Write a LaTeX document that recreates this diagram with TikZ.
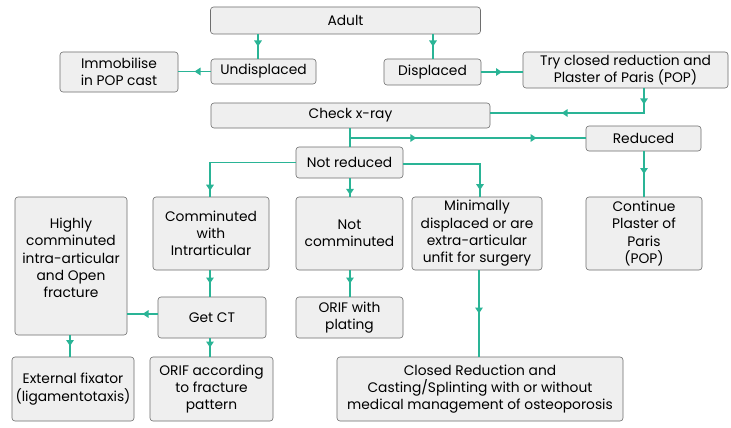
\documentclass[tikz,border=0pt]{standalone}
\usepackage{fontspec}
\setmainfont{Poppins}
\usetikzlibrary{arrows.meta,decorations.markings}
\definecolor{teal1}{RGB}{42,180,150}
\definecolor{boxfill}{RGB}{239,239,239}
\definecolor{boxline}{RGB}{110,110,110}
\tikzset{
  box/.style={draw=boxline, fill=boxfill, rounded corners=3pt, line width=0.6pt,
    inner sep=0pt, align=center, font=\fontsize{13.8}{17.3}\selectfont},
  conn/.style={draw=teal1, line width=1.6pt},
  am/.style={postaction={decorate,decoration={markings,
    mark=at position #1 with {\arrow{Triangle[length=6pt,width=7.5pt]}}}}},
  am/.default=0.5
}
\begin{document}
\begin{tikzpicture}[x=1pt,y=-1pt]
\useasboundingbox[fill=white] (0,0) rectangle (731,428);
% nodes
\node[box,minimum width=270pt,minimum height=27pt] (adult) at (345.5,20.5) {Adult};
\node[box,minimum width=105pt,minimum height=25pt] (undisp) at (263.5,71.5) {Undisplaced};
\node[box,minimum width=118pt,minimum height=40pt] (immob) at (119,72) {Immobilise\\in POP cast};
\node[box,minimum width=97pt,minimum height=26pt] (disp) at (432.5,72) {Displaced};
\node[box,minimum width=205pt,minimum height=36pt] (try) at (625.5,70) {Try closed reduction and\\Plaster of Paris (POP)};
\node[box,minimum width=279pt,minimum height=25pt] (check) at (350.5,115.5) {Check x-ray};
\node[box,minimum width=115pt,minimum height=25pt] (reduced) at (643.5,138.5) {Reduced};
\node[box,minimum width=107pt,minimum height=31pt] (notred) at (349.5,162.5) {Not reduced};
\node[box,minimum width=112pt,minimum height=138pt] (highly) at (71,266) {Highly\\comminuted\\intra-articular\\and Open\\fracture\\[-1pt]};
\node[box,minimum width=116pt,minimum height=73pt] (comm) at (211,233.5) {Comminuted\\with\\Intrarticular};
\node[box,minimum width=107pt,minimum height=73pt] (notcomm) at (349.5,233.5) {Not\\comminuted};
\node[box,minimum width=130pt,minimum height=73pt] (minim) at (477,233.5) {Minimally\\displaced or are\\extra-articular\\unfit for surgery};
\node[box,minimum width=116pt,minimum height=73pt] (cont) at (644,233.5) {Continue\\Plaster of\\Paris\\(POP)};
\node[box,minimum width=108pt,minimum height=41pt] (getct) at (212,317.5) {Get CT};
\node[box,minimum width=107pt,minimum height=41pt] (orifp) at (349.5,317.5) {ORIF with\\plating};
\node[box,minimum width=122pt,minimum height=64pt] (extfix) at (73,389) {External fixator\\(ligamentotaxis)};
\node[box,minimum width=123pt,minimum height=64pt] (orifa) at (211.5,389) {ORIF according\\to fracture\\pattern};
\node[box,minimum width=286pt,minimum height=64pt] (closed) at (480,389) {Closed Reduction and\\Casting/Splinting with or without\\medical management of osteoporosis};
% connectors
\draw[conn,am] (258,0 |- adult.south) -- (258,0 |- undisp.north);
\draw[conn,am] (433,0 |- adult.south) -- (433,0 |- disp.north);
\draw[conn,am] (undisp.west) -- (immob.east |- undisp.west);
\draw[conn,am] (disp.east) -- (try.west |- disp.east);
\coordinate (c1) at (644,113);
\draw[conn,am=0.09,am=0.6] (c1 |- try.south) -- (c1) -- (c1 -| check.east);
\coordinate (c2) at (350,138);
\draw[conn] (c2 |- check.south) -- (c2 |- notred.north);
\draw[conn,am=0.31,am=0.80] (c2 |- check.south) -- (c2) -- (c2 -| reduced.west);
\draw[conn,am] (644,0 |- reduced.south) -- (644,0 |- cont.north);
\coordinate (c3) at (210,162.5);
\draw[conn,am=0.95] (notred.west |- c3) -- (c3) -- (c3 |- comm.north);
\draw[conn,am=0.9] (350,0 |- notred.south) -- (350,0 |- notcomm.north);
\coordinate (c4) at (480,164);
\draw[conn,am=0.94] (notred.east |- c4) -- (c4) -- (c4 |- minim.north);
\draw[conn,am] (210,0 |- comm.south) -- (210,0 |- getct.north);
\draw[conn,am] (getct.west |- 0,314) -- (highly.east |- 0,314);
\draw[conn,am] (210,0 |- getct.south) -- (210,0 |- orifa.north);
\draw[conn,am] (70,0 |- highly.south) -- (70,0 |- extfix.north);
\draw[conn,am] (350,0 |- notcomm.south) -- (350,0 |- orifp.north);
\draw[conn,am] (479,0 |- minim.south) -- (479,0 |- closed.north);
\end{tikzpicture}
\end{document}
